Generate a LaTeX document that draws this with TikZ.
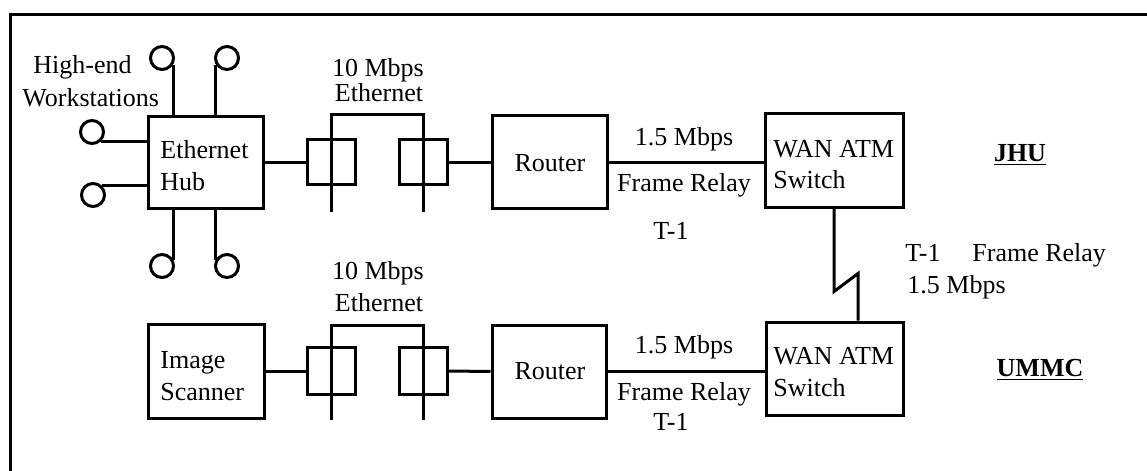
\documentclass[tikz,border=0pt]{standalone}
\usepackage{fontspec}
\setmainfont{Liberation Serif}
\usetikzlibrary{calc}
\begin{document}
\begin{tikzpicture}[x=0.5pt,y=-0.5pt,
  lw/.style={line width=1.5pt},
  box/.style={draw,lw,inner sep=0pt},
  conn/.style={lw},
  ws/.style={draw,lw,circle,minimum size=11.5pt,inner sep=0pt},
  tl/.style={inner sep=0pt,anchor=base west,font=\fontsize{13}{15}\selectfont},
  tc/.style={inner sep=0pt,anchor=base,font=\fontsize{13}{15}\selectfont}]
\useasboundingbox (0,0) rectangle (1147,471);
% frame
\coordinate (fbl) at (10,471);
\coordinate (ftl) at (10,14);
\coordinate (ftr) at (1147,14);
\draw[lw] (fbl) -- (ftl) -- (ftr);

% ---------- top row (JHU) ----------
\node[box,minimum width=57.5pt,minimum height=46pt] (hub) at (205.5,162) {};
\node[box,minimum width=24pt,minimum height=22.5pt] (t1) at (331,162) {};
\node[box,minimum width=24pt,minimum height=22.5pt] (t2) at (423,162) {};
\node[box,minimum width=57.5pt,minimum height=46.5pt] (r1) at (549.5,162) {};
\node[box,minimum width=69pt,minimum height=47pt] (w1) at (834,160) {};

\draw[conn] (hub.east) -- (t1.west);
\draw[conn] (t2.east) -- (r1.west);
\draw[conn] (r1.east) -- (r1.east -| w1.west);
\draw[conn] ($(t1.south)+(0,26)$) -- ($(t1.north)+(0,-24)$) -| ($(t2.south)+(0,26)$);

% workstations
\node[ws] (c1) at (162,58) {};
\node[ws] (c2) at (227,58) {};
\node[ws] (c3) at (92,132) {};
\node[ws] (c4) at (93,195) {};
\node[ws] (c5) at (162,266) {};
\node[ws] (c6) at (227,266) {};
\draw[conn] (c1.-30) -- (c1.-30 |- hub.north);
\draw[conn] (c2.-150) -- (c2.-150 |- hub.north);
\draw[conn] (c3.-45) -- (c3.-45 -| hub.west);
\draw[conn] (c4.45) -- (c4.45 -| hub.west);
\draw[conn] (c5.30) -- (c5.30 |- hub.south);
\draw[conn] (c6.150) -- (c6.150 |- hub.south);

% ---------- bottom row (UMMC) ----------
\node[box,minimum width=58pt,minimum height=47pt] (scan) at (206,371) {};
\node[box,minimum width=24pt,minimum height=23.5pt] (t3) at (331,371) {};
\node[box,minimum width=24pt,minimum height=23.5pt] (t4) at (423,371) {};
\node[box,minimum width=57pt,minimum height=46.5pt] (r2) at (549,371.5) {};
\node[box,minimum width=68.5pt,minimum height=46.5pt] (w2) at (834.5,368.5) {};

\draw[conn] (scan.east) -- (t3.west);
\draw[conn] (t4.east) -- (r2.west);
\draw[conn] (r2.east) -- (r2.east -| w2.west);
\draw[conn] ($(t3.south)+(0,23.5)$) -- ($(t3.north)+(0,-20.5)$) -| ($(t4.south)+(0,23.5)$);

% WAN link (zigzag)
\draw[conn] (w1.south) -- ++(0,83) -- ++(24,-18) coordinate (zz) -- (zz |- w2.north);

% ---------- texts ----------
\node[tl] (hi) at (33,73) {High-end};
\node[tl] (wk) at (22,106) {Workstations};
\node[tc] (e1a) at (378,76) {10 Mbps};
\node[tc] (e1b) at (379,101) {Ethernet};
\node[tl] (hubt1) at (160,158) {Ethernet};
\node[tl] (hubt2) at (160,190) {Hub};
\node[tc] (r1t) at (550,171) {Router};
\node[tc] (l1a) at (684,145) {1.5 Mbps};
\node[tc] (l1b) at (684,191) {Frame Relay};
\node[tc] (l1c) at (671,239) {T-1};
\node[tl] (w1a) at (773,157) {WAN ATM};
\node[tl] (w1b) at (773,188) {Switch};
\node[tc] (jhu) at (1020,161) {\underline{\textbf{JHU}}};
\node[tl] (zt) at (905,261) {T-1};
\node[tl] (zf) at (972,261) {Frame Relay};
\node[tl] (zm) at (907,293) {1.5 Mbps};
\node[tc] (e2a) at (378,279) {10 Mbps};
\node[tc] (e2b) at (379,311) {Ethernet};
\node[tl] (s1) at (160,368) {Image};
\node[tl] (s2) at (160,400) {Scanner};
\node[tc] (r2t) at (550,379) {Router};
\node[tc] (l2a) at (684,353) {1.5 Mbps};
\node[tc] (l2b) at (684,400) {Frame Relay};
\node[tc] (l2c) at (671,430) {T-1};
\node[tl] (w2a) at (773,364) {WAN ATM};
\node[tl] (w2b) at (773,396) {Switch};
\node[tc] (ummc) at (1040,376) {\underline{\textbf{UMMC}}};
\end{tikzpicture}
\end{document}
